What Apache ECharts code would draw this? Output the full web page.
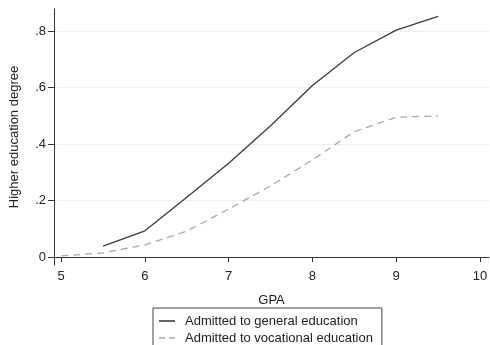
<!DOCTYPE html>
<html><head><meta charset="utf-8">
<script src="https://cdn.jsdelivr.net/npm/echarts@6/dist/echarts.min.js"></script>
<style>html,body{margin:0;padding:0;background:#fff}#c{width:490px;height:345px}</style>
</head><body><div id="c"></div>
<script>
const gpaGeneral = [5.5, 6, 6.5, 7, 7.5, 8, 8.5, 9, 9.5];
const general = [0.039, 0.093, 0.212, 0.332, 0.465, 0.607, 0.724, 0.803, 0.852];
const gpaVocational = [5, 5.5, 6, 6.5, 7, 7.5, 8, 8.5, 9, 9.5];
const vocational = [0.004, 0.015, 0.043, 0.092, 0.170, 0.252, 0.344, 0.444, 0.495, 0.500];
const xTicks = [5, 6, 7, 8, 9, 10];
const yTicks = [0, 0.2, 0.4, 0.6, 0.8];
const seriesNames = ['Admitted to general education', 'Admitted to vocational education'];

const font = 'Liberation Sans, Arial, sans-serif';
const chart = echarts.init(document.getElementById('c'), null, {renderer: 'canvas'});
chart.setOption({
  animation: false,
  backgroundColor: '#fff',
  grid: {left: 47, right: 0, top: 9, bottom: 80, containLabel: false},
  xAxis: {
    type: 'value', min: 4.914, max: 10.109,
    name: 'GPA', nameLocation: 'middle', nameGap: 29,
    nameTextStyle: {fontFamily: font, fontSize: 13, color: '#222'},
    axisLine: {show: true, lineStyle: {color: '#333', width: 1}},
    axisTick: {show: true, length: 5, inside: false, customValues: xTicks, lineStyle: {color: '#333'}},
    axisLabel: {customValues: xTicks, fontFamily: font, fontSize: 13, color: '#222', margin: 5},
    splitLine: {show: false}
  },
  yAxis: {
    type: 'value', min: -0.028, max: 0.878,
    name: 'Higher education degree', nameLocation: 'middle', nameGap: 33, nameRotate: 90,
    nameTextStyle: {fontFamily: font, fontSize: 13, color: '#222'},
    axisLine: {show: true, lineStyle: {color: '#333', width: 1}},
    axisTick: {show: true, length: 6, customValues: yTicks, lineStyle: {color: '#333'}},
    axisLabel: {customValues: yTicks, fontFamily: font, fontSize: 13, color: '#222', margin: 8,
      formatter: v => v === 0 ? '0' : String(Math.round(v * 10) / 10).replace(/^0/, '')},
    splitLine: {show: true, customValues: yTicks, lineStyle: {color: '#eaf2f3', width: 1}}
  },
  legend: {
    orient: 'vertical', left: 153, top: 308, height: 100,
    padding: [6, 9, 6, 6], itemGap: 3,
    borderColor: '#444', borderWidth: 1,
    itemWidth: 16, itemHeight: 14,
    textStyle: {fontFamily: font, fontSize: 13, color: '#222', lineHeight: 14, padding: [0, 0, 0, 5]},
    data: [
      {name: seriesNames[0], icon: 'path://M0,0H16V1.4H0Z', itemStyle: {color: '#222'}},
      {name: seriesNames[1], icon: 'path://M0,0H6V1.4H0Z M10,0H16V1.4H10Z', itemStyle: {color: '#a8a8a8'}}
    ]
  },
  series: [
    {name: seriesNames[0], type: 'line', symbol: 'none',
     data: gpaGeneral.map((x, i) => [x, general[i]]),
     lineStyle: {color: '#3a3a3a', width: 1.3}, itemStyle: {color: '#3a3a3a'}},
    {name: seriesNames[1], type: 'line', symbol: 'none',
     data: gpaVocational.map((x, i) => [x, vocational[i]]),
     lineStyle: {color: '#a8a8a8', width: 1.3, type: [7, 5]}, itemStyle: {color: '#a8a8a8'}}
  ]
});
</script></body></html>
